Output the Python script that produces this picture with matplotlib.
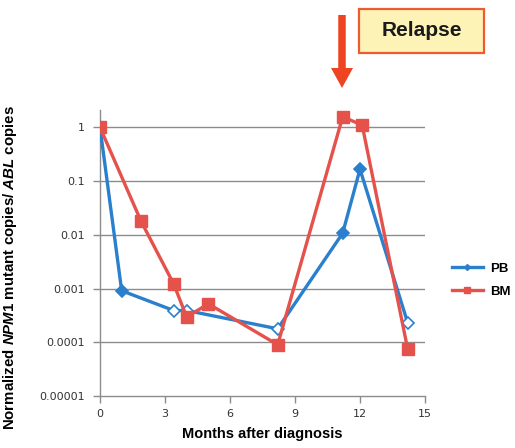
import matplotlib
matplotlib.use('Agg')
import matplotlib.pyplot as plt
from matplotlib.patches import Rectangle, FancyArrow

# values
pb_months = [0, 1.0, 3.4, 4.0, 8.2, 11.2, 12.0, 14.2]
pb_values = [1.0, 0.00091, 0.00039, 0.00039, 0.000178, 0.0107, 0.166, 0.00023]
pb_open = [False, False, True, True, True, False, False, True]

bm_months = [0, 1.9, 3.4, 4.0, 5.0, 8.2, 11.2, 12.1, 14.2]
bm_values = [1.0, 0.0177, 0.00122, 0.000295, 0.00052, 0.00009, 1.57, 1.1, 0.000075]

x_ticks = [0, 3, 6, 9, 12, 15]
y_ticks = [1e-5, 1e-4, 1e-3, 1e-2, 1e-1, 1]
y_labels = ['0.00001', '0.0001', '0.001', '0.01', '0.1', '1']

blue = '#2a80cc'
red = '#e5524c'
grey = '#8c8c8c'

plt.rcParams['mathtext.fontset'] = 'custom'
plt.rcParams['mathtext.it'] = 'Liberation Sans:bold:italic'
plt.rcParams['mathtext.rm'] = 'Liberation Sans:bold'

fig = plt.figure(figsize=(5.15, 4.48), dpi=100)
ax = fig.add_axes([100 / 515, 1 - 396 / 448, 325 / 515, 286 / 448])

ax.set_yscale('log')
ax.set_xlim(0, 15)
ax.set_ylim(1e-5, 2.1)

for yv in y_ticks[1:]:
    ax.axhline(yv, color=grey, lw=1, zorder=1)

ax.plot(pb_months, pb_values, color=blue, lw=2.4, zorder=3, label='PB')
for xm, yv, op in zip(pb_months, pb_values, pb_open):
    ax.plot(xm, yv, marker='D', ms=6, color=blue, mec=blue, mew=1.2,
            mfc='white' if op else blue, zorder=4)
ax.plot(bm_months, bm_values, color=red, lw=2.4, marker='s', ms=8,
        mec=red, mfc=red, zorder=5, label='BM')

ax.set_xticks(x_ticks)
ax.set_yticks(y_ticks)
ax.set_yticklabels(y_labels)
ax.minorticks_off()
ax.tick_params(axis='both', labelsize=8, labelcolor='#333333', color=grey,
               length=5, width=1, direction='out')
ax.tick_params(axis='y', pad=6)
ax.tick_params(axis='x', pad=4)

for side in ['top', 'right']:
    ax.spines[side].set_visible(False)
for side in ['left', 'bottom']:
    ax.spines[side].set_color(grey)
    ax.spines[side].set_linewidth(1)

ax.set_xlabel('Months after diagnosis', fontsize=10.5, fontweight='bold',
              family='Liberation Sans', labelpad=6)
ax.set_ylabel(r'Normalized $\mathit{NPM1}$ mutant copies/ $\mathit{ABL}$ copies',
              fontsize=10.8, fontweight='bold', family='Liberation Sans')
ax.yaxis.set_label_coords(-0.25, 0.45)

# legend on the right
h_pb = plt.Line2D([], [], color=blue, lw=2.4, marker='D', ms=3)
h_bm = plt.Line2D([], [], color=red, lw=2.4, marker='s', ms=4)
leg = fig.legend([h_pb, h_bm], ['PB', 'BM'], loc='center left',
                 bbox_to_anchor=(447 / 515, 1 - 280 / 448), frameon=False,
                 handlelength=2.3, handletextpad=0.6, labelspacing=0.8,
                 borderaxespad=0,
                 prop={'family': 'Liberation Sans', 'weight': 'bold', 'size': 9.5})

# relapse box and arrow
fig.patches.append(Rectangle((359 / 515, 1 - 53 / 448), 125 / 515, 44 / 448,
                             transform=fig.transFigure, facecolor='#fdf3b6',
                             edgecolor='#f05a32', lw=1.6))
fig.text(421.5 / 515, 1 - 31 / 448, 'Relapse', ha='center', va='center',
         fontsize=15, fontweight='bold', family='Liberation Sans', color='#1a1a1a')
fig.patches.append(FancyArrow(3.42, 4.33, 0, -0.73, width=0.075, head_width=0.22,
                              head_length=0.2, length_includes_head=True,
                              transform=fig.dpi_scale_trans, color='#ee4422', lw=0))

fig.savefig('out.png', dpi=100)
